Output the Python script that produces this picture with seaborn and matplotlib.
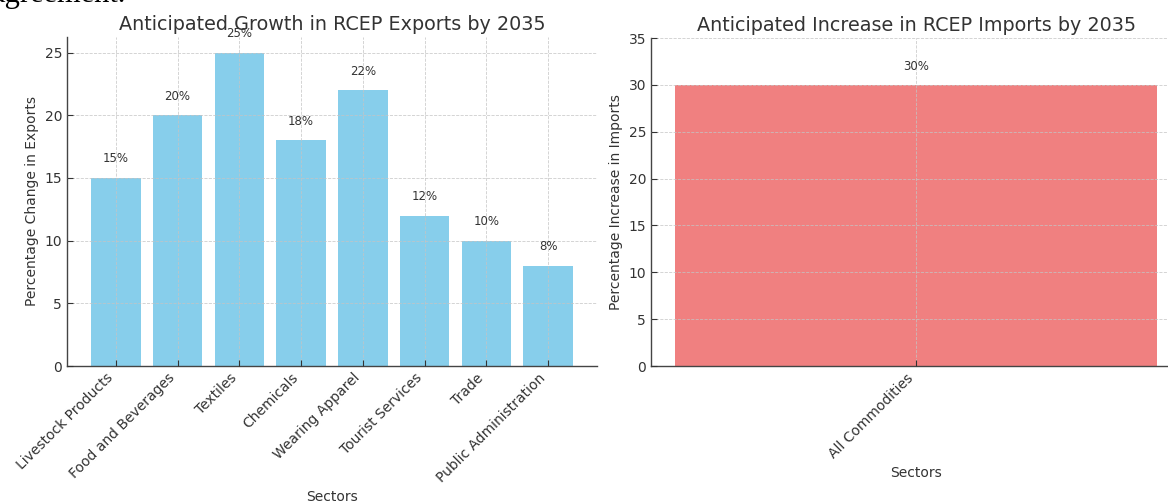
import matplotlib
matplotlib.use("Agg")
import matplotlib.pyplot as plt
import seaborn as sns
import pandas as pd

export_sectors = ["Livestock Products", "Food and Beverages", "Textiles", "Chemicals",
                  "Wearing Apparel", "Tourist Services", "Trade", "Public Administration"]
export_growth = [15, 20, 25, 18, 22, 12, 10, 8]

import_sectors = ["All Commodities"]
import_growth = [30]

TEXT = "#333333"
plt.rcParams.update({
    "font.family": ["DejaVu Sans"],
    "text.color": TEXT,
    "axes.labelcolor": TEXT,
    "xtick.color": TEXT,
    "ytick.color": TEXT,
    "axes.edgecolor": "#444444",
})

fig = plt.figure(figsize=(11.68, 5.03), dpi=100)
W, H = 1168, 503
ax1 = fig.add_axes([67 / W, (H - 366) / H, 530 / W, 329 / H])
ax2 = fig.add_axes([651 / W, (H - 366) / H, 530 / W, 328 / H])

df_exp = pd.DataFrame({"Sector": export_sectors, "Growth": export_growth})
df_imp = pd.DataFrame({"Sector": import_sectors, "Growth": import_growth})

sns.barplot(data=df_exp, x="Sector", y="Growth", color="skyblue", saturation=1,
            width=0.8, ax=ax1)
sns.barplot(data=df_imp, x="Sector", y="Growth", color="lightcoral", saturation=1,
            width=0.8, ax=ax2)

for ax in (ax1, ax2):
    ax.grid(True, linestyle="--", linewidth=0.6, color="#c4c4c4", alpha=0.85)
    ax.set_axisbelow(False)
    for p in ax.patches:
        p.set_zorder(1)
    ax.spines["top"].set_visible(False)
    ax.spines["right"].set_visible(False)
    ax.spines["left"].set_linewidth(1.0)
    ax.spines["bottom"].set_linewidth(1.0)
    ax.tick_params(direction="in", length=4, labelsize=10)
    ax.set_xlabel("Sectors", fontsize=10)
    for lbl in ax.get_xticklabels():
        lbl.set_rotation(45)
        lbl.set_ha("right")
        lbl.set_rotation_mode("default")

ax1.set_xlim(-0.79, len(export_sectors) - 1 + 0.79)
ax1.set_ylim(0, 26.25)
ax1.set_yticks([0, 5, 10, 15, 20, 25])
ax1.set_ylabel("Percentage Change in Exports", fontsize=10)
ax1.set_title("Anticipated Growth in RCEP Exports by 2035", fontsize=13.75, color=TEXT, pad=5)
for i, v in enumerate(export_growth):
    ax1.text(i, v + 1, f"{v}%", ha="center", va="bottom", fontsize=8.5, color=TEXT)

ax2.set_xlim(-0.44, 0.44)
ax2.set_ylim(0, 35)
ax2.set_yticks([0, 5, 10, 15, 20, 25, 30, 35])
ax2.set_ylabel("Percentage Increase in Imports", fontsize=10)
ax2.set_title("Anticipated Increase in RCEP Imports by 2035", fontsize=13.75, color=TEXT, pad=5)
for i, v in enumerate(import_growth):
    ax2.text(i, v + 1.3, f"{v}%", ha="center", va="bottom", fontsize=8.5, color=TEXT)

fig.text(-8 / W, 1 - 2 / H, "agreement.", family="Liberation Serif", fontsize=22,
         color="black", va="baseline", ha="left")

fig.savefig("out.png", dpi=100)
